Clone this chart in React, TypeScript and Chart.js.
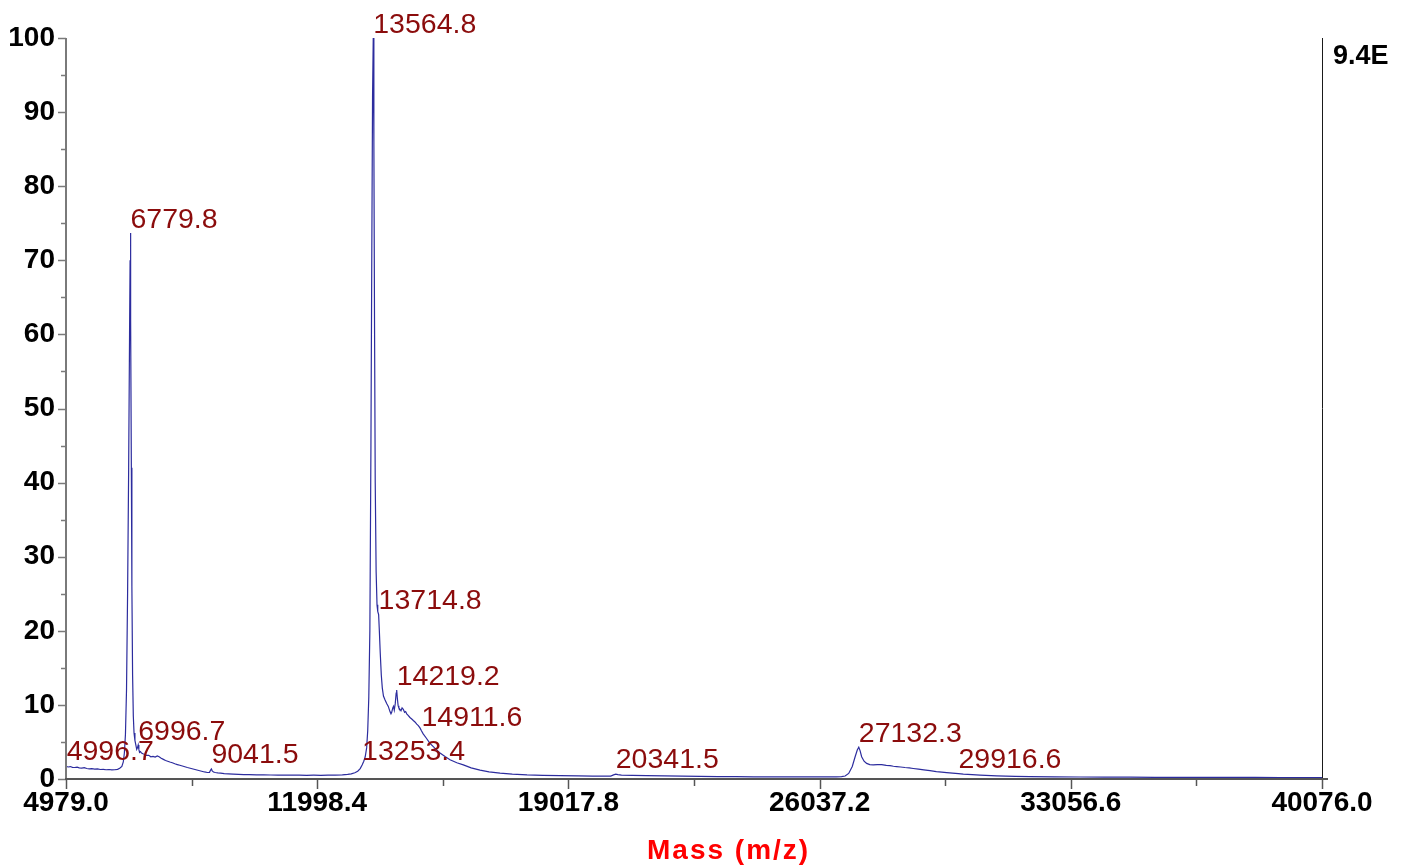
import React, { useEffect, useRef } from 'react';
import { Chart, registerables } from 'chart.js';

Chart.register(...registerables);

// ---- data -------------------------------------------------------------
const massValues = [
  4979, 5040, 5100, 5160, 5220, 5290, 5350, 5420, 5490, 5560, 5630, 5700, 5780, 5860, 5940, 6020,
  6100, 6180, 6260, 6340, 6420, 6480, 6540, 6580, 6610, 6640, 6670, 6700, 6730, 6755, 6770, 6779.8,
  6790, 6805, 6820, 6840, 6860, 6880, 6905, 6930, 6955, 6975, 6996.7, 7015, 7035, 7060, 7090, 7130,
  7180, 7230, 7290, 7350, 7410, 7470, 7530, 7580, 7640, 7700, 7760, 7820, 7880, 7950, 8020, 8090,
  8160, 8230, 8300, 8370, 8450, 8530, 8610, 8690, 8770, 8850, 8930, 8990, 9020, 9041.5, 9065, 9100,
  9150, 9220, 9300, 9400, 9520, 9650, 9800, 9950, 10100, 10300, 10500, 10700, 10900, 11100, 11300,
  11500, 11700, 11900, 12100, 12300, 12500, 12700, 12850, 12950, 13050, 13130, 13200, 13253.4, 13300,
  13340, 13380, 13410, 13440, 13470, 13500, 13525, 13545, 13564.8, 13582, 13600, 13620, 13645, 13670,
  13690, 13714.8, 13735, 13760, 13790, 13817, 13850, 13892, 13940, 13985, 14032, 14060, 14080, 14110,
  14130, 14152, 14180, 14205, 14219.2, 14240, 14260, 14280, 14310, 14340, 14370, 14404, 14440, 14470,
  14500, 14540, 14590, 14640, 14684, 14730, 14780, 14824, 14870, 14911.6, 14960, 15050, 15150, 15300,
  15431, 15580, 15710, 15900, 16082, 16300, 16549, 16800, 17108, 17450, 17862, 18300, 18784, 19300,
  19700, 20000, 20200, 20280, 20341.5, 20400, 20500, 20800, 21200, 21700, 22200, 22700, 23200, 23700,
  24200, 24700, 25200, 25700, 26200, 26500, 26650, 26750, 26850, 26950, 27030, 27090, 27132.3, 27170,
  27212, 27280, 27352, 27440, 27536, 27650, 27771, 27900, 28003, 28100, 28190, 28300, 28422, 28540,
  28654, 28800, 28950, 29121, 29300, 29450, 29588, 29750, 29916.6, 30054, 30300, 30520, 30987, 31500,
  31918, 32600, 33315, 34000, 34712, 35400, 36109, 36800, 37506, 38200, 38904, 39500, 40076,
];

const intensityValues = [
  1.70, 1.62, 1.68, 1.58, 1.55, 1.60, 1.50, 1.47, 1.52, 1.42, 1.38, 1.40, 1.33, 1.36, 1.28, 1.30,
  1.25, 1.28, 1.22, 1.25, 1.30, 1.45, 1.70, 2.3, 3.5, 6.0, 12, 25, 42, 60, 70, 73.7,
  62, 42, 26, 14, 8.5, 6.2, 5.2, 4.6, 4.0, 4.2, 4.6, 4.0, 3.6, 3.7, 3.5, 3.4,
  3.3, 3.2, 3.2, 3.0, 3.05, 2.95, 3.1, 3.0, 2.8, 2.65, 2.5, 2.4, 2.3, 2.2, 2.05, 1.95,
  1.85, 1.75, 1.65, 1.55, 1.45, 1.35, 1.25, 1.15, 1.05, 0.95, 0.88, 0.9, 1.2, 1.35, 1.1, 0.95,
  0.88, 0.82, 0.78, 0.72, 0.68, 0.65, 0.62, 0.60, 0.58, 0.57, 0.55, 0.54, 0.53, 0.52, 0.52,
  0.51, 0.50, 0.51, 0.50, 0.52, 0.53, 0.56, 0.62, 0.7, 0.85, 1.05, 1.4, 1.9, 2.4,
  3.0, 4.2, 6.5, 11, 20, 45, 72, 92, 100, 86, 62, 40, 28, 23.5,
  22.6, 22.2, 20, 17, 14, 12.3, 11.2, 10.7, 10.2, 9.8, 9.1, 8.8, 9.0, 9.6,
  9.8, 9.3, 10.2, 11.6, 12.0, 10.8, 9.9, 9.6, 9.4, 9.2, 9.6, 9.4, 9.0, 9.1,
  8.8, 8.6, 8.3, 8.1, 7.9, 7.7, 7.4, 7.2, 6.9, 6.5, 6.1, 5.5, 4.8, 4.1,
  3.5, 3.0, 2.6, 2.2, 1.9, 1.5, 1.2, 0.95, 0.78, 0.65, 0.55, 0.50, 0.46, 0.42,
  0.40, 0.38, 0.40, 0.55, 0.65, 0.58, 0.52, 0.48, 0.45, 0.42, 0.38, 0.35, 0.33, 0.31,
  0.30, 0.29, 0.28, 0.28, 0.28, 0.29, 0.33, 0.40, 0.75, 1.7, 3.0, 3.9, 4.3, 3.8,
  3.0, 2.4, 2.1, 1.95, 1.9, 1.95, 1.95, 1.85, 1.8, 1.72, 1.68, 1.62, 1.55, 1.5,
  1.42, 1.32, 1.22, 1.12, 1.0, 0.92, 0.85, 0.78, 0.72, 0.66, 0.58, 0.52, 0.42, 0.36,
  0.32, 0.29, 0.27, 0.25, 0.24, 0.23, 0.22, 0.22, 0.21, 0.21, 0.20, 0.20, 0.20,
];

const peakMasses = [4996.7, 6779.8, 6996.7, 9041.5, 13253.4, 13564.8, 13714.8, 14219.2, 14911.6, 20341.5, 27132.3, 29916.6];
const peakIntensities = [1.9, 73.7, 4.6, 1.45, 1.9, 100, 22.2, 12.0, 6.5, 0.85, 4.3, 0.8];
const peakLabels = ['4996.7', '6779.8', '6996.7', '9041.5', '13253.4', '13564.8', '13714.8', '14219.2', '14911.6', '20341.5', '27132.3', '29916.6'];

const xMajorTicks = [4979.0, 11998.4, 19017.8, 26037.2, 33056.6, 40076.0];
const xMinorTicks = [8488.7, 15508.1, 22527.5, 29546.9, 36566.3];
const xTickLabels = ['4979.0', '11998.4', '19017.8', '26037.2', '33056.6', '40076.0'];
const yMajorTicks = [0, 10, 20, 30, 40, 50, 60, 70, 80, 90, 100];
const yMinorTicks = [5, 15, 25, 35, 45, 55, 65, 75, 85, 95];

const xTitle = 'Mass (m/z)';
const scaleNote = '9.4E';

// ---- decoration plugin -------------------------------------------------
const decorPlugin = {
  id: 'decor',
  afterDraw(chart: any) {
    const ctx = chart.ctx as CanvasRenderingContext2D;
    const xs = chart.scales.x;
    const ys = chart.scales.y;
    const { left, right, top, bottom } = chart.chartArea;
    const seg = (x1: number, y1: number, x2: number, y2: number) => {
      ctx.beginPath();
      ctx.moveTo(x1, y1);
      ctx.lineTo(x2, y2);
      ctx.stroke();
    };
    ctx.save();

    // right axis
    ctx.strokeStyle = '#1a1a1a';
    ctx.lineWidth = 1;
    seg(right + 0.5, top, right + 0.5, bottom);

    // left axis
    ctx.strokeStyle = '#7a7a7a';
    ctx.lineWidth = 2;
    seg(left, top, left, bottom + 1);
    ctx.lineWidth = 1.5;
    yMajorTicks.forEach((v) => {
      const y = Math.round(ys.getPixelForValue(v)) + 0.5;
      seg(left - 8, y, left, y);
    });
    yMinorTicks.forEach((v) => {
      const y = Math.round(ys.getPixelForValue(v)) + 0.5;
      seg(left - 5, y, left + 1, y);
    });

    // bottom axis
    ctx.strokeStyle = '#555555';
    ctx.lineWidth = 2;
    seg(left - 1, bottom, right + 6, bottom);
    ctx.lineWidth = 1.5;
    xMajorTicks.forEach((v) => {
      const x = Math.round(xs.getPixelForValue(v)) + 0.5;
      seg(x, bottom, x, bottom + 10);
    });
    xMinorTicks.forEach((v) => {
      const x = Math.round(xs.getPixelForValue(v)) + 0.5;
      seg(x, bottom, x, bottom + 7);
    });

    // peak labels
    ctx.fillStyle = '#8b0c0c';
    ctx.font = '28.5px "Liberation Sans", Arial, sans-serif';
    ctx.textAlign = 'left';
    ctx.textBaseline = 'alphabetic';
    peakLabels.forEach((lab, i) => {
      const px = xs.getPixelForValue(peakMasses[i]);
      const py = ys.getPixelForValue(peakIntensities[i]);
      ctx.fillText(lab, px, py - 5);
    });

    // x title
    ctx.fillStyle = '#ff0000';
    ctx.font = 'bold 28px "Liberation Sans", Arial, sans-serif';
    (ctx as any).letterSpacing = '2px';
    ctx.textAlign = 'left';
    ctx.fillText(xTitle, 647, 859);
    (ctx as any).letterSpacing = '0px';

    // scale note
    ctx.fillStyle = '#000000';
    ctx.font = 'bold 27px "Liberation Sans", Arial, sans-serif';
    ctx.fillText(scaleNote, 1333, 64);

    ctx.restore();
  },
};

export default function App() {
  const canvasRef = useRef<HTMLCanvasElement | null>(null);

  useEffect(() => {
    const canvas = canvasRef.current;
    if (!canvas) return;
    const points = massValues.map((m, i) => ({ x: m, y: intensityValues[i] }));
    const tickFont = { family: '"Liberation Sans", Arial, sans-serif', size: 28, weight: 'bold' as const };
    const chart = new Chart(canvas, {
      type: 'line',
      data: {
        datasets: [
          {
            data: points,
            borderColor: '#2c2c9e',
            borderWidth: 1.2,
            pointRadius: 0,
            tension: 0,
            fill: false,
          },
        ],
      },
      options: {
        responsive: false,
        animation: false,
        events: [],
        layout: { padding: { left: 0, top: 38, right: 85, bottom: 0 } },
        plugins: { legend: { display: false }, tooltip: { enabled: false }, title: { display: false } },
        scales: {
          x: {
            type: 'linear',
            min: 4979,
            max: 40076,
            afterBuildTicks: (scale: any) => {
              scale.ticks = xMajorTicks.map((v) => ({ value: v }));
            },
            afterFit: (scale: any) => {
              scale.height = 86;
            },
            ticks: {
              autoSkip: false,
              maxRotation: 0,
              minRotation: 0,
              padding: 7,
              color: '#000',
              font: tickFont,
              callback: (v: any) => {
                const idx = xMajorTicks.indexOf(Number(v));
                return idx >= 0 ? xTickLabels[idx] : '';
              },
            },
            grid: { display: true, drawOnChartArea: false, drawTicks: false, color: 'transparent' },
            border: { display: false },
          },
          y: {
            type: 'linear',
            min: 0,
            max: 100,
            afterBuildTicks: (scale: any) => {
              scale.ticks = yMajorTicks.map((v) => ({ value: v }));
            },
            afterFit: (scale: any) => {
              scale.width = 66;
            },
            ticks: {
              autoSkip: false,
              padding: 11,
              color: '#000',
              font: tickFont,
              callback: (v: any) => String(v),
            },
            grid: { display: true, drawOnChartArea: false, drawTicks: false, color: 'transparent' },
            border: { display: false },
          },
        },
      },
      plugins: [decorPlugin],
    });
    return () => chart.destroy();
  }, []);

  return (
    <div style={{ position: 'absolute', left: 0, top: 0, width: 1407, height: 865, background: '#ffffff' }}>
      <canvas ref={canvasRef} width={1407} height={865} style={{ display: 'block' }} />
    </div>
  );
}
